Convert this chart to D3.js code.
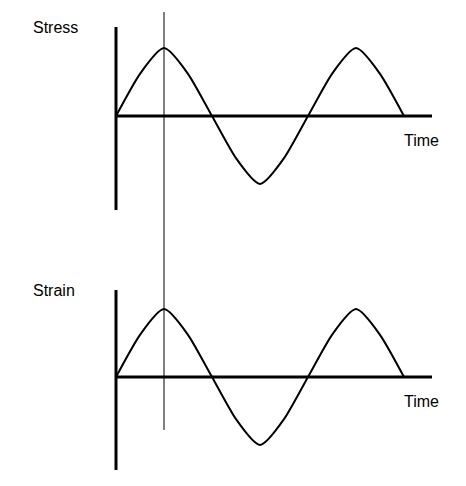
<!DOCTYPE html>
<html><head><meta charset="utf-8">
<script src="https://cdn.jsdelivr.net/npm/d3@7"></script>
<style>body{margin:0;background:#fff}</style>
</head><body>
<script>
// time in quarter periods
const times = [0, 0.5, 1, 1.5, 2, 2.5, 3, 3.5, 4, 4.5, 5, 5.5, 6];
const stress = [0, 0.62, 1, 0.62, 0, -0.62, -1, -0.62, 0, 0.62, 1, 0.62, 0];
const strain = [0, 0.62, 1, 0.62, 0, -0.62, -1, -0.62, 0, 0.62, 1, 0.62, 0];
const panels = [
    {label: 'Stress', values: stress, top: 27, zero: 116, bottom: 210, amp: 68},
    {label: 'Strain', values: strain, top: 290, zero: 377, bottom: 470, amp: 68}
];

const svg = d3.select('body').append('svg').attr('width', 466).attr('height', 486);
const x = d3.scaleLinear().domain([0, 6]).range([116, 404]);

panels.forEach(p => {
    let y = d3.scaleLinear().domain([-1, 1]).range([p.zero + p.amp, p.zero - p.amp]);
    let g = svg.append('g');
    g.append('line').attr('x1', 116).attr('x2', 116).attr('y1', p.top).attr('y2', p.bottom)
        .attr('stroke', '#000').attr('stroke-width', 3);
    g.append('line').attr('x1', 116).attr('x2', 432).attr('y1', p.zero).attr('y2', p.zero)
        .attr('stroke', '#000').attr('stroke-width', 3);
    g.append('path')
        .datum(times.map((t, i) => [t, p.values[i]]))
        .attr('fill', 'none').attr('stroke', '#000').attr('stroke-width', 2)
        .attr('d', d3.line().x(d => x(d[0])).y(d => y(d[1])).curve(d3.curveCardinal.tension(0.3)));
    g.append('text').attr('x', 33).attr('y', p.top + 6).text(p.label)
        .attr('font-family', 'Arial, Liberation Sans').attr('font-size', 16);
    g.append('text').attr('x', 404).attr('y', p.zero + 30).text('Time')
        .attr('font-family', 'Arial, Liberation Sans').attr('font-size', 16);
});

svg.append('line').attr('x1', x(1)).attr('x2', x(1)).attr('y1', 12).attr('y2', 430)
    .attr('stroke', '#000').attr('stroke-width', 1);
</script>
</body></html>
